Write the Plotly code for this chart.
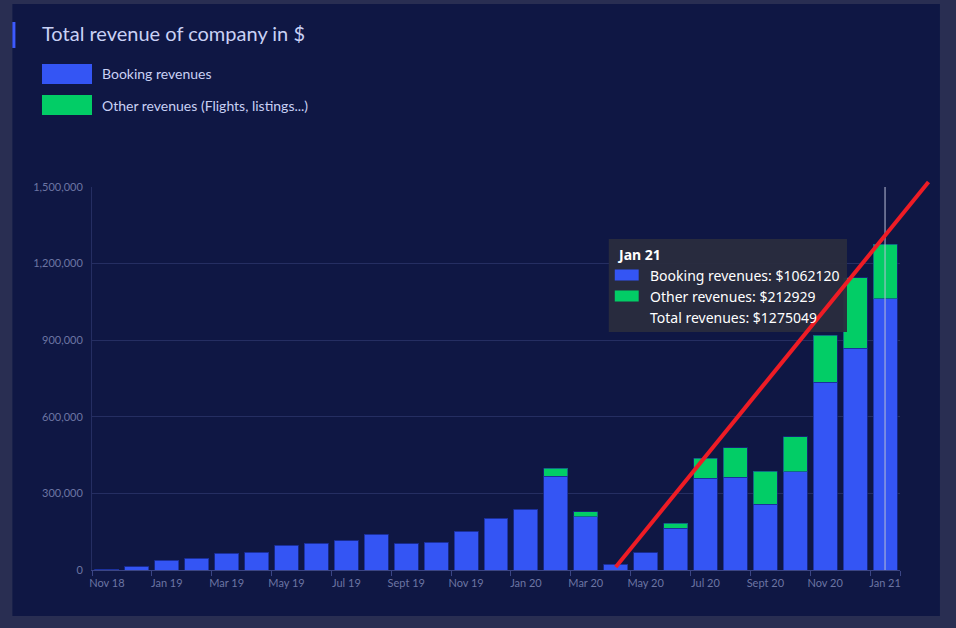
import plotly.graph_objects as go

months = ["Nov 18", "Dec 18", "Jan 19", "Feb 19", "Mar 19", "Apr 19", "May 19", "Jun 19", "Jul 19",
          "Aug 19", "Sept 19", "Oct 19", "Nov 19", "Dec 19", "Jan 20", "Feb 20", "Mar 20", "Apr 20",
          "May 20", "Jun 20", "Jul 20", "Aug 20", "Sept 20", "Oct 20", "Nov 20", "Dec 20", "Jan 21"]
booking = [2500, 13000, 39000, 47000, 65000, 70500, 96700, 104500, 113600,
           139800, 103000, 108500, 152700, 203600, 237700, 368000, 208800, 23500,
           67900, 163000, 360000, 363000, 257200, 385000, 736300, 868000, 1062120]
other = [0, 0, 0, 0, 0, 0, 0, 0, 0,
         0, 0, 0, 0, 0, 0, 30000, 19600, 0,
         0, 21000, 77000, 115000, 130500, 137000, 184000, 277000, 212929]
tick_labels = months[::2]

BLUE = "#3455f4"
GREEN = "#02cd66"
TEXT = "#c9d1f5"
AXIS = "#6c75a3"
TIPFONT = "Noto Sans, Open Sans, sans-serif"

fig = go.Figure()
fig.add_trace(go.Bar(x=months, y=booking, name="Booking revenues",
                     marker=dict(color=BLUE, line=dict(color="rgba(25,45,150,0.8)", width=1))))
fig.add_trace(go.Bar(x=months, y=other, name="Other revenues (Flights, listings...)",
                     marker=dict(color=GREEN, line=dict(color="rgba(25,45,150,0.6)", width=1))))

shapes = []
annots = []
# card background + title accent
shapes.append(dict(type="rect", xref="paper", yref="paper", x0=-0.0985, x1=1.0494, y0=-0.1201, y1=1.4778,
                   fillcolor="#0f1744", line=dict(width=0), layer="below"))
shapes.append(dict(type="rect", xref="paper", yref="paper", x0=-0.0985, x1=-0.0948, y0=1.363, y1=1.4308,
                   fillcolor="#3d5afe", line=dict(width=0)))
annots.append(dict(text="Total revenue of company in $", xref="paper", yref="paper", x=-0.0644, y=1.402,
                   xanchor="left", yanchor="middle", showarrow=False, font=dict(size=20, color=TEXT)))

# legend built by hand (big swatches)
for i, (name, col) in enumerate([("Booking revenues", BLUE), ("Other revenues (Flights, listings...)", GREEN)]):
    yc = (570 - (74 + 31 * i)) / 383
    shapes.append(dict(type="rect", xref="paper", yref="paper", x0=-0.0619, x1=0.0,
                       y0=yc - 0.0261, y1=yc + 0.0261, fillcolor=col, line=dict(width=0)))
    annots.append(dict(text=name, xref="paper", yref="paper", x=0.0100, y=yc, xanchor="left",
                       yanchor="middle", showarrow=False, font=dict(size=14, color=TEXT)))

# axis pointer on last month
shapes.append(dict(type="line", xref="x", yref="paper", x0=len(months) - 1, x1=len(months) - 1,
                   y0=0, y1=1, line=dict(color="#b8bdd6", width=1)))

# tooltip
shapes.append(dict(type="rect", xref="paper", yref="paper", x0=0.6396, x1=0.9344, y0=0.6214, y1=0.8642,
                   fillcolor="rgba(42,45,62,0.96)", line=dict(width=0)))
annots.append(dict(text="<b>%s</b>" % months[-1], xref="paper", yref="paper", x=0.6470, y=0.8225,
                   xanchor="left", yanchor="middle", showarrow=False,
                   font=dict(family=TIPFONT, size=14, color="white")))
lines = ["Booking revenues: $%d" % booking[-1], "Other revenues: $%d" % other[-1],
         "Total revenues: $%d" % (booking[-1] + other[-1])]
for i, (txt, col) in enumerate(zip(lines, [BLUE, GREEN, None])):
    yc = (570 - (275 + 21 * i)) / 383
    if col:
        shapes.append(dict(type="rect", xref="paper", yref="paper", x0=0.6470, x1=0.6766,
                           y0=yc - 0.0144, y1=yc + 0.0144, fillcolor=col, line=dict(width=0)))
    annots.append(dict(text=txt, xref="paper", yref="paper", x=0.6880, y=yc, xanchor="left",
                       yanchor="middle", showarrow=False, font=dict(family=TIPFONT, size=14, color="white")))

# red hand-drawn line
shapes.append(dict(type="line", xref="paper", yref="paper", x0=0.6482, y0=0.0078, x1=1.0353, y1=1.0131,
                   line=dict(color="#ee1c25", width=4)))

fig.update_layout(
    width=956, height=628,
    margin=dict(l=92, r=56, t=187, b=58),
    paper_bgcolor="#292e52", plot_bgcolor="#0f1744",
    font=dict(family="Lato, Open Sans, sans-serif", color=AXIS),
    barmode="stack", bargap=0.2, showlegend=False,
    shapes=shapes, annotations=annots,
    xaxis=dict(type="category", tickmode="array", tickvals=tick_labels, ticktext=tick_labels,
               tickson="boundaries", ticks="outside", ticklen=5, tickcolor="#3b4585", tickangle=0,
               showgrid=False, showline=True, linecolor="#3b4585", ticklabelstandoff=3,
               tickfont=dict(size=11, color=AXIS)),
    yaxis=dict(range=[0, 1500000], dtick=300000, tickformat=",", gridcolor="#252e62",
               zeroline=False, showline=True, linecolor="#252e62", ticks="",
               tickfont=dict(size=11, color=AXIS), ticklabelstandoff=6),
)

fig.write_html("out.html", config={"displayModeBar": False},
               post_script="document.body.style.margin='0';")
